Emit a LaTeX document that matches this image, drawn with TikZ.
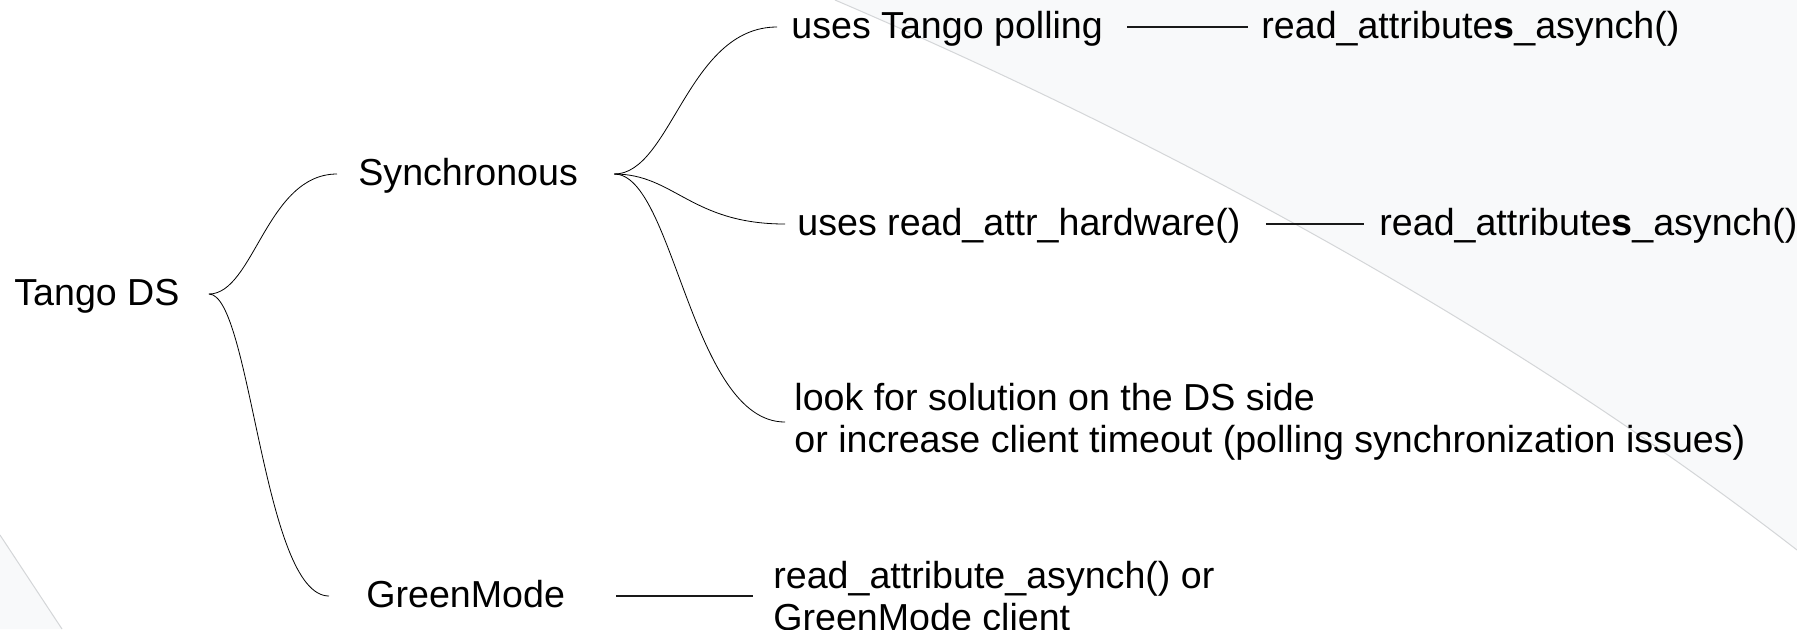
\documentclass[tikz,border=0pt]{standalone}
\usepackage{fontspec}
\setmainfont{Liberation Sans}
\usetikzlibrary{calc}
\definecolor{bgfill}{HTML}{F8F9FA}
\definecolor{bgedge}{HTML}{D4D6D8}
\newcommand\lblfont{\fontsize{18.8pt}{21pt}\selectfont}
\tikzset{
  lbl/.style={font=\lblfont, inner sep=0pt, text height=11.5pt, text depth=0pt, anchor=west},
  mlbl/.style={font=\lblfont, inner sep=0pt, align=left, anchor=west},
  conn/.style={line width=0.55pt, draw=black!90},
  sbrace/.style={conn, to path={let \p1=(\tikztostart), \p2=(\tikztotarget) in
      .. controls ({\x1+0.35*(\x2-\x1)},\y1) and ({\x1+0.45*(\x2-\x1)},\y2) .. (\tikztotarget)}},
}
\begin{document}
\begin{tikzpicture}[x=0.5pt,y=-0.5pt]
\fill[white] (0,0) rectangle (1797,629);
\useasboundingbox (0,0) rectangle (1797,629);
% background shapes
\fill[bgfill] (835,0) .. controls (1150,135) and (1500,320) .. (1797,550) -- (1797,0) -- cycle;
\draw[bgedge, line width=0.5pt] (835,0) .. controls (1150,135) and (1500,320) .. (1797,550);
\fill[bgfill] (0,535) -- (62,629) -- (0,629) -- cycle;
\draw[bgedge, line width=0.5pt] (0,535) -- (62,629);

% nodes
\node[lbl] (tango) at (14,294) {Tango DS};
\node[lbl] (sync) at (358,174) {Synchronous};
\node[lbl] (green) at (366,596) {GreenMode};
\node[lbl] (poll) at (791,27) {uses Tango polling};
\node[lbl] (rah1) at (1261,27) {read\_attribute\textbf{s}\_asynch()};
\node[lbl] (hw) at (797,224) {uses read\_attr\_hardware()};
\node[lbl] (rah2) at (1379,224) {read\_attribute\textbf{s}\_asynch()};
\node[mlbl] (look) at (794,422) {look for solution on the DS side\\or increase client timeout (polling synchronization issues)};
\node[mlbl] (gm) at (773,596) {read\_attribute\_asynch() or\\GreenMode client};

% connectors
\draw ([xshift=14.5pt]tango.east) to[sbrace] ([xshift=-10.5pt]sync.west);
\draw ([xshift=14.5pt]tango.east) to[sbrace] ([xshift=-18.5pt]green.west);
\draw ([xshift=18pt]sync.east) to[sbrace] ([xshift=-7pt]poll.west);
\draw ([xshift=18pt]sync.east) to[sbrace] ([xshift=-6pt]hw.west);
\draw ([xshift=18pt]sync.east) to[sbrace] ([xshift=-4.5pt]look.west);
\draw[conn] ([xshift=12pt]poll.east) -- ([xshift=-6.5pt]rah1.west);
\draw[conn] ([xshift=12.5pt]hw.east) -- ([xshift=-7.5pt]rah2.west);
\draw[conn] ([xshift=25.5pt]green.east) -- ([xshift=-10pt]gm.west);
\end{tikzpicture}
\end{document}
